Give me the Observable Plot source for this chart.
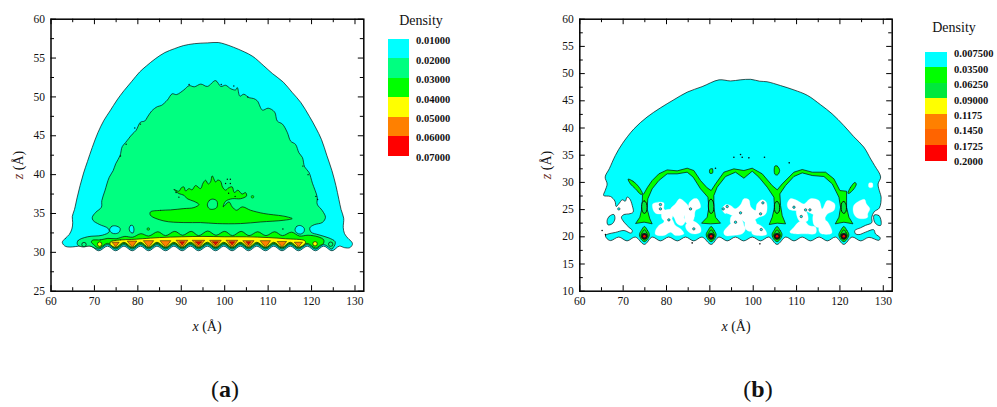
<!DOCTYPE html>
<html>
<head>
<meta charset="utf-8">
<script src="https://cdn.jsdelivr.net/npm/d3@7"></script>
<script src="https://cdn.jsdelivr.net/npm/@observablehq/plot@0.6"></script>
<style>
html,body{margin:0;padding:0;background:#fff;width:997px;height:407px;overflow:hidden}
#page{position:relative;width:997px;height:407px;font-family:"Liberation Serif",serif;color:#111}
#page svg{position:absolute;top:0}
.t{position:absolute;white-space:nowrap;transform:translate(-50%,-50%)}
.r{transform:translate(-50%,-50%) rotate(-90deg)}
.sw{position:absolute}
.lb{position:absolute;white-space:nowrap;font-weight:bold;font-size:10.5px;transform:translateY(-50%)}
</style>
</head>
<body>
<div id="page"></div>
<script>
// ---------- axes ----------
const xMajor = [60,70,80,90,100,110,120,130];
const xMinor = [65,75,85,95,105,115,125];
const yMajorA = [25,30,35,40,45,50,55,60];
const yMinorA = [27.5,32.5,37.5,42.5,47.5,52.5,57.5];
const yMajorB = [10,15,20,25,30,35,40,45,50,55,60];
const yMinorB = [12.5,17.5,22.5,27.5,32.5,37.5,42.5,47.5,52.5,57.5];

// ---------- legends ----------
const legendLabelsA = ["0.01000","0.02000","0.03000","0.04000","0.05000","0.06000","0.07000"];
const legendColorsA = ["#00ffff","#00ff80","#00ff00","#ffff00","#ff8000","#ff0000"];
const legendLabelsB = ["0.007500","0.03500","0.06250","0.09000","0.1175","0.1450","0.1725","0.2000"];
const legendColorsB = ["#00ffff","#00ff00","#00e83c","#ffff00","#ff8000","#ff6400","#ff0000"];

// ---------- panel (a): contour outlines, [x, z] in angstrom ----------
const aTeethLow = [124.7,120.9,117,113.2,109.4,105.5,101.7,97.9,94,90.2,86.4,82.5,78.7,74.9,71];
const aTeethHigh = [122.8,119,115.1,111.3,107.4,103.6,99.8,96,92.1,88.3,84.4,80.6,76.8,73];
const aCyanEdge = [[62.6,31.3],[63.3,31.8],[64.2,32.3],[64.8,33],[65,33.8],[64.9,34.6],[65.4,35.5],[66,37],[66.7,38.6],[67.5,40.2],[68.4,41.7],[69.5,43.5],[70.8,45.4],[72.2,47],[73.6,48.2],[75.2,49.6],[76.8,50.8],[78.6,52],[80.4,53.2],[82,54],[84,54.9],[86.2,55.7],[88.4,56.2],[90.5,56.6],[93,56.85],[96,56.95],[98.5,57],[100,56.8],[102,56.4],[104.5,55.8],[106.5,55.2],[109,54],[111,53],[113.5,51.9],[115.5,50.6],[117.5,49.3],[119.5,47.5],[121,46],[122.3,44.5],[123.5,42.5],[124.7,40.5],[125.6,38.6],[126.3,36.8],[126.8,35.5],[127.4,34.4],[127.3,33.2],[127.6,32.4],[128.4,31.8],[129.3,31.3],[129.4,31],[128.8,30.6],[127.6,30.6],[126.4,30.8]];
const aCyanLeftFoot = [[69.2,30.8],[67.8,30.85],[66.4,30.8],[65,30.7],[63.8,30.7],[63.1,30.85]];
const aSpringEdge = [[66.1,31],[66.2,31.5],[68.4,32],[71.8,32.2],[73.4,32.65],[73.1,33.1],[71.1,33.6],[69.7,34.1],[69.5,34.5],[70.3,35.15],[71.6,35.8],[71.7,36.65],[72.4,37.9],[73.4,39.65],[74.3,40.5],[74.9,41.4],[75.9,42.45],[76.4,43.6],[77.2,44.15],[78.7,45.2],[79.6,45.7],[80.6,46.75],[81.6,46.9],[82.2,47.4],[83.2,48.2],[84.5,48.75],[85.4,48.9],[86.8,49.6],[87.9,50.4],[88.9,50.3],[90.6,50.9],[91.8,51.45],[93,51.3],[94.5,51.65],[96,51.35],[97.9,52.1],[99.1,51.35],[100.2,51.5],[101.4,51.05],[102.5,50.9],[102.9,51.2],[103.5,50.1],[104.4,50.35],[105.6,49.9],[106.6,49.8],[107.5,49.5],[108.7,48.3],[110,48.55],[111.5,48.05],[112.1,46.9],[113.3,46.5],[114.4,45.45],[115.2,44.3],[116.3,43.9],[117.1,42.8],[117.9,42.2],[118.4,41],[119.4,40.3],[120.2,38.9],[121.3,37.1],[121.3,36.2],[122.5,35.35],[123.2,34.5],[122.5,33.85],[120.6,33.55],[119.6,33.15],[119.9,32.6],[121.7,32.25],[124,31.85],[125.4,31.4],[125.4,31],[124.9,30.55]];
const aSpringFoot = [[69,30.8],[67.2,30.7]];
const aCyanIslands = [
  [[73.5,32.9],[74,33.35],[74.9,33.4],[75.9,33.1],[75.7,32.6],[74.8,32.4],[74,32.5]],
  [[78,33],[78.3,33.45],[78.8,33.45],[79.1,33],[78.9,32.5],[78.4,32.55]],
  [[116.2,32.9],[116.6,33.35],[117.4,33.45],[118.3,33.1],[118.2,32.6],[117.4,32.35],[116.6,32.5]]
];
const aLensTree = [[82.9,35.2],[85.2,35.4],[87.5,35.46],[90.6,35.63],[92.9,35.76],[94.06,36.15],[92.9,36.57],[91.37,36.9],[90.6,37.35],[89.45,37.56],[88.3,38.1],[89.45,37.86],[90,38.3],[90.6,38.42],[91,37.9],[91.76,38.2],[92.5,38.05],[93.29,38.6],[94.44,38.2],[95,38.9],[95.6,39.28],[96.2,38.8],[96.74,39.06],[97.13,39.84],[97.9,39.06],[98.4,39.3],[99.05,39.15],[99.5,38.4],[100.2,38],[100.9,38.3],[101.73,38.42],[102.2,37.7],[103.04,38],[104,37.5],[104.8,37.69],[105.03,37.26],[103.65,36.9],[101.73,36.9],[100.2,36.57],[99.66,35.85],[100.97,36.49],[101.73,35.85],[102.73,35.42],[104.03,35.85],[105.95,35.42],[109,35],[113.25,34.69],[114.4,34.56],[115.55,34.34],[113.63,34.13],[108.26,33.91],[103.65,33.7],[98.28,33.7],[94.44,33.83],[90.6,33.83],[86,34.04],[82.9,34.77]];
const aTreeHole = [[96,36.1],[96.5,36.7],[97.3,36.85],[98.2,36.6],[98.2,35.8],[97.4,35.55],[96.5,35.6]];
const aBandTop = [[69.5,31.55],[71.4,31.6],[73.1,31.8],[75,31.75],[77,32.05],[78.8,31.95],[80.7,32.4],[82.5,32.1],[84.6,32.65],[86.4,32.15],[88.5,32.7],[90.3,32.2],[92.3,32.7],[94,32.15],[96.1,32.75],[98,32.2],[100,32.7],[101.8,32.15],[103.8,32.7],[105.6,32.15],[107.6,32.65],[109.5,32.15],[111.5,32.65],[113.3,32.15],[115.4,32.6],[117.2,32.1],[119.2,32.2],[121.5,32],[122.8,31.6],[122.7,31.1],[122,30.9]];
const aBandFoot = [[69.8,31],[69.3,31.3]];
const aYellowTop = [[73.7,31.35],[76,31.6],[78.5,31.65],[81,31.75],[85,31.9],[90,32],[95,32.05],[100,32],[105,32],[110,31.9],[114,31.75],[118.4,31.5],[118.6,31.2]];
const aOrangeX = [74.9,78.7,82.5,86.4,90.2,94,97.9,101.7,105.5,109.4,113.2,117];
const aOrangeHalf = [0.8,1.05,1.15,1.2,1.3,1.4,1.3,1.3,1.25,1.15,1.05,0.9];
const aOrangeTop = [31.3,31.45,31.5,31.5,31.55,31.55,31.55,31.55,31.5,31.5,31.4,31.3];
const aRedX = [90.2,94,97.9,101.7,105.5];
const aRedHalf = [0.55,0.7,0.65,0.6,0.5];
const aBlobs = [[67.6,31,"#00ff80"],[124.4,31.05,"#00ff80"],[71.2,31.05,"#ffff00"],[120.8,31.1,"#ffff00"]];
const aSpecks = [[91.8,51.6],[79.3,46],[80.6,46.5],[77.3,43.9],[76,42.4],[99.2,51.6],[102.1,51.4],[105.3,50],[118,41.1],[119.2,40],[121,37.2],[121.4,36.8],[113.4,33],[100.6,39.4],[101.3,39.4],[100.2,38.85],[101.3,38.85],[89.45,37.1],[88.8,37.7],[100.9,37.6],[102.4,37.2]];
const aDotsGreen = [[82.4,33],[106.4,37.15]];

// ---------- panel (b) ----------
const bBottom = [[122.8,19.95],[120.9,18.6],[119,19.95],[117.1,19.25],[115.2,19.95],[113.2,19.25],[111.3,19.95],[109.4,19.25],[107.5,19.95],[105.5,18.6],[103.6,19.95],[101.7,19.25],[99.8,19.95],[97.8,19.25],[95.9,19.95],[94,19.25],[92.1,19.95],[90.3,18.6],[88.2,19.95],[86.3,19.25],[84.4,19.95],[82.5,19.25],[80.5,19.95],[78.6,19.25],[76.7,19.95],[74.9,18.6],[72.8,19.95],[70.9,19.25],[69,19.95],[67.1,19.3]];
const bEdge = [[66.3,19.63],[65.9,20.24],[66.7,20.55],[68.2,20.8],[70.2,21.16],[71.85,20.67],[72.1,21.16],[71.3,21.77],[70.2,22.7],[69.6,23.6],[70.2,24.1],[71.3,24.2],[72.3,24.53],[72.1,25.76],[71.5,27],[70.9,27.3],[70.5,26.55],[69.8,26.8],[69,26.06],[68.4,25.57],[68.1,26.55],[67.1,27.4],[65.5,27.6],[65.85,28.5],[66.3,29.7],[65.85,31],[66.8,32.5],[68.2,34.95],[69.8,37.1],[72.5,39.85],[75.5,42],[78.6,43.7],[81.7,45.2],[84.8,46.6],[88.2,47.6],[92.1,48.85],[94.8,48.65],[97,48.85],[99.4,48.95],[101.5,48.6],[103.2,48.5],[106.3,47.8],[109.4,47],[112.5,46],[115.5,44.3],[118.2,42.6],[120.9,40.45],[123.2,38.4],[125.5,36.5],[127.1,34.3],[128,33.1],[129.4,31],[128.8,29.7],[129.2,28.2],[129.5,27.3],[129.1,25.3],[127.9,24.6],[127.35,23.6],[127.35,22.6],[125.9,22.1],[124.75,21.65],[123.45,21.16],[123.6,20.55],[124.4,20.4],[125.9,20.85],[127.8,21.3],[128.2,20.55],[129.3,19.8],[129,19.35],[126.7,19.9],[124.8,19.25]];
const bCyanIslands = [
  [[66.3,23],[66.85,23.8],[67.85,24.1],[68.1,23.3],[67.5,22.4],[66.5,22.2]],
  [[127.9,24],[129,23.9],[129.5,22.9],[129.4,22.1],[128.6,22.2],[127.9,22.9]]
];
const bWhite = [
  [[76.85,26.06],[78.24,26.37],[79.4,26.2],[79.4,25.14],[80.16,24.53],[79,24.2],[77.47,24.35],[76.85,25.14]],
  [[80.93,25.14],[82.08,26.06],[83,26.98],[84,26.55],[85.16,25.45],[84.77,24.53],[84,23.6],[84.4,23],[83.6,22.08],[82.47,22.4],[81.7,23.6],[80.93,24.2]],
  [[85.16,26.06],[86.3,26.98],[87.08,26.98],[87.85,25.45],[86.7,24.84],[86.3,23.6],[85.54,23.92]],
  [[77.47,21.16],[78.24,22.08],[79.4,22.7],[79.4,23.6],[80.93,23.6],[82.08,22.08],[83.24,21.47],[84,20.55],[82.08,20.24],[80.93,20.85],[79.4,20.24],[77.47,20.43]],
  [[84.4,22.08],[85.54,23],[86.7,22.7],[87.85,21.77],[87.85,20.85],[85.93,20.55],[84.77,21.16]],
  [[79,24.6],[81,25],[81.3,23.4],[80,22.9],[79,23.3]],
  [[84.3,24.5],[85.6,25.2],[86.4,24],[86,22.8],[84.5,22.6]],
  [[92.84,25.14],[93.6,25.88],[94.76,25.76],[95.9,25.14],[97.07,25.88],[97.84,26.98],[99,26.8],[99.4,25.57],[100.5,24.84],[100.9,26.06],[102.07,26.8],[103,26.37],[103.07,24.53],[102.46,23.92],[101.3,23.6],[100.15,23],[98.6,22.5],[97.46,23],[95.9,23.6],[94.38,24.2],[93.38,24.35]],
  [[93.2,20.85],[94.38,22.08],[95.53,22.7],[97.46,22.4],[98.2,21.47],[97.46,20.55],[95.15,20.24],[93.6,20.24]],
  [[99.76,21.77],[100.5,22.4],[101.7,22.08],[102.84,21.16],[103.07,20.43],[100.9,20.24],[99.76,20.55]],
  [[95,23.8],[97,23.4],[97.8,22.2],[96,22],[94.8,22.5]],
  [[98.2,22.8],[100.3,23.2],[100.8,22],[99.4,21],[98.3,21.4]],
  [[107.85,26.05],[108.6,27],[110.15,26.67],[111.7,26.05],[113.2,27],[115.15,26.67],[115.9,25.13],[117.1,26.67],[118.8,26.05],[118.6,24.83],[117.1,24.2],[116.3,23.3],[115.15,23.6],[113.6,24.2],[111.7,24.83],[109.4,24.83],[108.2,25.13]],
  [[108.46,20.85],[109.4,21.76],[110.5,22.7],[111.7,23],[112.85,22.07],[114.4,21.76],[114.4,20.66],[111.7,20.54],[109.8,20.54]],
  [[115.15,21.76],[116.7,23],[117.85,21.76],[118.1,20.66],[115.5,20.66]],
  [[110,24.9],[112,24.9],[112.6,23],[110.8,22.8]],
  [[114,24.2],[116.2,24],[116.6,22.6],[115,21.7],[114,22.2]],
  [[123.2,25.76],[124.4,26.55],[125.7,26.86],[126.1,26.06],[126.9,25.14],[126.4,24.2],[126.4,23.6],[125.1,23.3],[123.8,23.6],[123.1,24.53]],
  [[126.7,29.85],[127.5,29.85],[127.5,29.1],[126.7,29.1]]
];
const bArches = [[72.92,22.5],[73.85,23.6],[74.38,25.44],[74.46,27.77],[74.77,27.89],[75.54,29],[76.69,30.34],[78.23,31.57],[80.15,32.3],[82.46,32.12],[84.77,32.61],[86.31,32.18],[87.85,30.34],[89.38,29],[90.31,28.5],[91.31,29.73],[93.23,31.88],[95.54,32.49],[97.85,32.18],[99.77,32.61],[102.08,31.57],[104.38,29.42],[105.54,28.63],[106.69,29.73],[109.38,31.88],[111.31,32.37],[113.62,31.88],[116.69,31.88],[118.62,30.65],[120,28.5],[121.54,28.38],[121.54,25.44],[122.08,23.6],[123,22.38],[120.92,22.68],[118.92,22.38],[119.77,23.6],[120.15,25.44],[119.77,27.28],[118.23,29.73],[116.31,31.08],[113.62,31.26],[111.31,31.75],[109.38,31.08],[107.46,29.42],[106.15,27.89],[106.31,25.75],[106.69,23.91],[107.46,22.38],[105.54,22.5],[103.69,22.26],[104.38,23.6],[104.92,25.44],[104.77,27.28],[103.23,29.12],[101.31,30.96],[99.77,32.06],[97.85,30.77],[95.92,31.88],[93.62,31.08],[91.69,29.12],[90.92,27.59],[90.92,25.44],[91.31,23.6],[92.46,22.5],[90.15,22.38],[88.08,22.5],[89.38,23.6],[89.77,25.44],[89.54,27.28],[87.85,28.81],[86.15,30.96],[84.77,31.88],[82.46,31.57],[80.15,31.57],[78.23,30.34],[76.69,28.81],[75.69,26.97],[75.54,25.13],[76.15,23.3],[76.69,22.38],[74.92,22.68]];
const bGreenBits = [
  [[71.15,30.6],[72.3,30.2],[73.5,29.3],[74.46,27.9],[74.1,27.8],[72.8,28.85],[71.7,29.7]],
  [[121.85,28],[122.46,29.1],[123.46,30],[123.77,29.7],[123.23,28.81],[122.08,27.97]],
  [[105,33],[105.54,33],[106.1,32.2],[105.6,31.38],[105,31.5]],
  [[90,32.4],[90.6,32.5],[90.6,31.7],[90,31.7]]
];
const bAtomX = [74.9,90.3,105.5,120.9];
const bCoreTop = [26.6,26.9,26.5,26.5];
const bSpecks = [[95.54,34.63],[97.08,35.12],[97.46,34.63],[99,34.51],[102.6,34.63],[108.3,33.59],[91.3,32.61],[65.15,21.15],[65.92,20.4],[85.92,18.88],[101.54,18.7]];
const bCyanSpecks = [[78.6,25.93],[78.6,25.13],[80.54,23.11],[85.54,25.13],[86.3,21.46],[94,25.56],[93.08,25.13],[97.08,24.4],[95.92,22.68],[102.23,26.24],[101.7,24.22],[101.85,21.34],[109.4,25.44],[112.08,24.95],[113.08,24.95],[111.08,23.73],[69,25.13]];

// ---------- helpers ----------
const rows = pts => pts.map(p => ({x: p[0], z: p[1]}));
const INK = {stroke: "#0a0a0a", strokeWidth: 0.7, strokeLinejoin: "round"};
const shape = (pts, fill, extra = {}) => Plot.line(rows(pts), {x: "x", y: "z", fill, curve: "catmull-rom-closed", ...INK, ...extra});
const teeth = (lo, hi, zLow, zHigh, a, b) => {
  const out = [];
  lo.forEach((x, i) => {
    if (x >= a && x <= b) out.push([x, zLow]);
    if (i < hi.length && hi[i] >= a && hi[i] <= b) out.push([hi[i], zHigh]);
  });
  return out;
};
const triangle = (c, half, top, tip) => [[c - half, top], [c + half, top], [c + half * 0.35, tip + 0.2], [c, tip], [c - half * 0.35, tip + 0.2]];
const drop = (c, top, bottom, half) => {
  const mid = (top + bottom) / 2;
  return [[c, top], [c + half * 0.6, mid + (top - mid) * 0.5], [c + half, mid - 0.1], [c + half * 0.6, bottom + 0.4], [c, bottom], [c - half * 0.6, bottom + 0.4], [c - half, mid - 0.1], [c - half * 0.6, mid + (top - mid) * 0.5]];
};
// inward tick marks on all four sides, with lengths given in pixels
const axes = (xDomain, yDomain, plotW, plotH, yMajor, yMinor) => {
  const lx = px => px * (xDomain[1] - xDomain[0]) / plotW;
  const ly = px => px * (yDomain[1] - yDomain[0]) / plotH;
  const T = {stroke: "#000", strokeWidth: 1};
  const vticks = (vals, len) => [
    Plot.ruleX(vals, {x: d => d, y1: yDomain[0], y2: yDomain[0] + ly(len), ...T}),
    Plot.ruleX(vals, {x: d => d, y1: yDomain[1], y2: yDomain[1] - ly(len), ...T})
  ];
  const hticks = (vals, len) => [
    Plot.ruleY(vals, {y: d => d, x1: xDomain[0], x2: xDomain[0] + lx(len), ...T}),
    Plot.ruleY(vals, {y: d => d, x1: xDomain[1], x2: xDomain[1] - lx(len), ...T})
  ];
  return [
    Plot.axisX(xMajor, {anchor: "bottom", tickSize: 0, tickPadding: 6, label: null}),
    Plot.axisY(yMajor, {anchor: "left", tickSize: 0, tickPadding: 6, label: null}),
    ...vticks(xMajor, 5.5), ...vticks(xMinor, 3.5),
    ...hticks(yMajor, 5.5), ...hticks(yMinor, 3.5),
    Plot.frame({stroke: "#000", strokeWidth: 1.5})
  ];
};
const base = {
  height: 340,
  marginTop: 18.7, marginBottom: 49.3,
  style: {fontFamily: "'Liberation Serif', serif", fontSize: "11.5px", color: "#111", background: "transparent", overflow: "visible"}
};

// ---------- panel (a) ----------
const marksA = [
  shape([...aCyanEdge, ...teeth(aTeethLow, aTeethHigh, 30.2, 30.8, 70, 126), ...aCyanLeftFoot], "#00ffff"),
  shape([...aSpringEdge, ...teeth(aTeethLow, aTeethHigh, 30.4, 31, 70, 125), ...aSpringFoot], "#00ff80"),
  ...aCyanIslands.map(p => shape(p, "#00ffff")),
  shape(aLensTree, "#00ff00"),
  shape(aTreeHole, "#00ff80"),
  shape([...aBandTop, ...teeth(aTeethLow, aTeethHigh, 30.55, 31.15, 70, 122), ...aBandFoot], "#00ff00"),
  shape([...aYellowTop, ...teeth(aTeethLow, aTeethHigh, 30.65, 31.3, 74, 118), [73.6,31.05]], "#ffff00"),
  ...aOrangeX.map((c, i) => shape(triangle(c, aOrangeHalf[i], aOrangeTop[i], 30.72), "#ff8000", {curve: "linear-closed", strokeWidth: 0.5})),
  ...aRedX.map((c, i) => shape(triangle(c, aRedHalf[i], 31.35, 30.95), "#ff0000", {curve: "linear-closed", strokeWidth: 0.4})),
  Plot.dot(aBlobs, {x: d => d[0], y: d => d[1], fill: d => d[2], r: 2.2, stroke: "#0a0a0a", strokeWidth: 0.7}),
  Plot.dot(aDotsGreen, {x: d => d[0], y: d => d[1], fill: "#00ff00", r: 1.3, stroke: "#0a0a0a", strokeWidth: 0.5}),
  Plot.dot(aSpecks, {x: d => d[0], y: d => d[1], fill: "#0a0a0a", r: 0.7, stroke: "none"})
];
const xDomA = [60, 132.03], yDomA = [25, 60];
const svgA = Plot.plot({...base, width: 364, marginLeft: 50.5, marginRight: 0.7,
  x: {domain: xDomA, axis: null}, y: {domain: yDomA, axis: null},
  marks: [...marksA, ...axes(xDomA, yDomA, 312.8, 272, yMajorA, yMinorA)]});

// ---------- panel (b) ----------
const marksB = [
  shape([...bEdge, ...bBottom], "#00ffff"),
  ...bCyanIslands.map(p => shape(p, "#00ffff")),
  ...bWhite.map(p => shape(p, "#ffffff", {stroke: "#ffffff", strokeWidth: 0.3})),
  shape(bArches, "#00ff00", {curve: "linear-closed"}),
  ...bGreenBits.map(p => shape(p, "#00ff00")),
  ...bAtomX.map((c, i) => shape([[c - 0.5, bCoreTop[i] - 0.3], [c, bCoreTop[i]], [c + 0.5, bCoreTop[i] - 0.5], [c + 0.5, 24.7], [c, 24.3], [c - 0.5, 24.7]], "#00e83c", {strokeWidth: 1})),
  ...bAtomX.map(c => shape(drop(c, 21.9, 19.1, 1.15), "#00ff00")),
  ...bAtomX.map(c => shape(drop(c, 21.3, 19.4, 0.8), "#00e83c")),
  Plot.dot(bAtomX, {x: d => d, y: () => 20.1, r: 3.2, fill: "#151515", stroke: "none"}),
  Plot.dot(bAtomX, {x: d => d, y: () => 20.1, r: 1.3, fill: "#ff0000", stroke: "none"}),
  Plot.dot(bSpecks, {x: d => d[0], y: d => d[1], fill: "#0a0a0a", r: 0.8, stroke: "none"}),
  Plot.dot(bCyanSpecks, {x: d => d[0], y: d => d[1], fill: "#00ffff", r: 1.2, stroke: "#222", strokeWidth: 0.6})
];
const xDomB = [60, 132.06], yDomB = [10, 60];
const svgB = Plot.plot({...base, width: 382, marginLeft: 69.3, marginRight: 0.3,
  x: {domain: xDomB, axis: null}, y: {domain: yDomB, axis: null},
  marks: [...marksB, ...axes(xDomB, yDomB, 312.4, 272, yMajorB, yMinorB)]});

// ---------- page ----------
const page = document.getElementById("page");
svgA.style.left = "0px";
svgB.style.left = "510px";
page.append(svgA, svgB);

function addText(html, x, y, size, cls = "t") {
  const el = document.createElement("div");
  el.className = cls;
  el.innerHTML = html;
  el.style.left = x + "px";
  el.style.top = y + "px";
  el.style.fontSize = size + "px";
  page.append(el);
}
function legend(labels, colors, swLeft, swRight, top, step, labelX, titleX, titleY) {
  addText("Density", titleX, titleY, 14);
  colors.forEach((c, i) => {
    const s = document.createElement("div");
    s.className = "sw";
    s.style.cssText = `left:${swLeft}px;width:${swRight - swLeft}px;top:${top + i * step}px;height:${step + 0.5}px;background:${c}`;
    page.append(s);
  });
  labels.forEach((l, i) => {
    const el = document.createElement("div");
    el.className = "lb";
    el.textContent = l;
    el.style.left = labelX + "px";
    el.style.top = (top + 1.3 + i * step) + "px";
    page.append(el);
  });
}
legend(legendLabelsA, legendColorsA, 387.5, 409.3, 39, 19.4, 416, 421, 21);
legend(legendLabelsB, legendColorsB, 925.3, 946.7, 52, 15.43, 954, 954, 28);

addText("<i>x</i> (Å)", 207, 327, 14);
addText("<i>x</i> (Å)", 736, 327, 14);
addText('<i style="color:#6b2f25">z</i> (Å)', 18.7, 165, 14, "t r");
addText('<i style="color:#6b2f25">z</i> (Å)', 547, 165, 14, "t r");
addText("(<b>a</b>)", 225, 389, 24);
addText("(<b>b</b>)", 758, 389, 24);
</script>
</body>
</html>
